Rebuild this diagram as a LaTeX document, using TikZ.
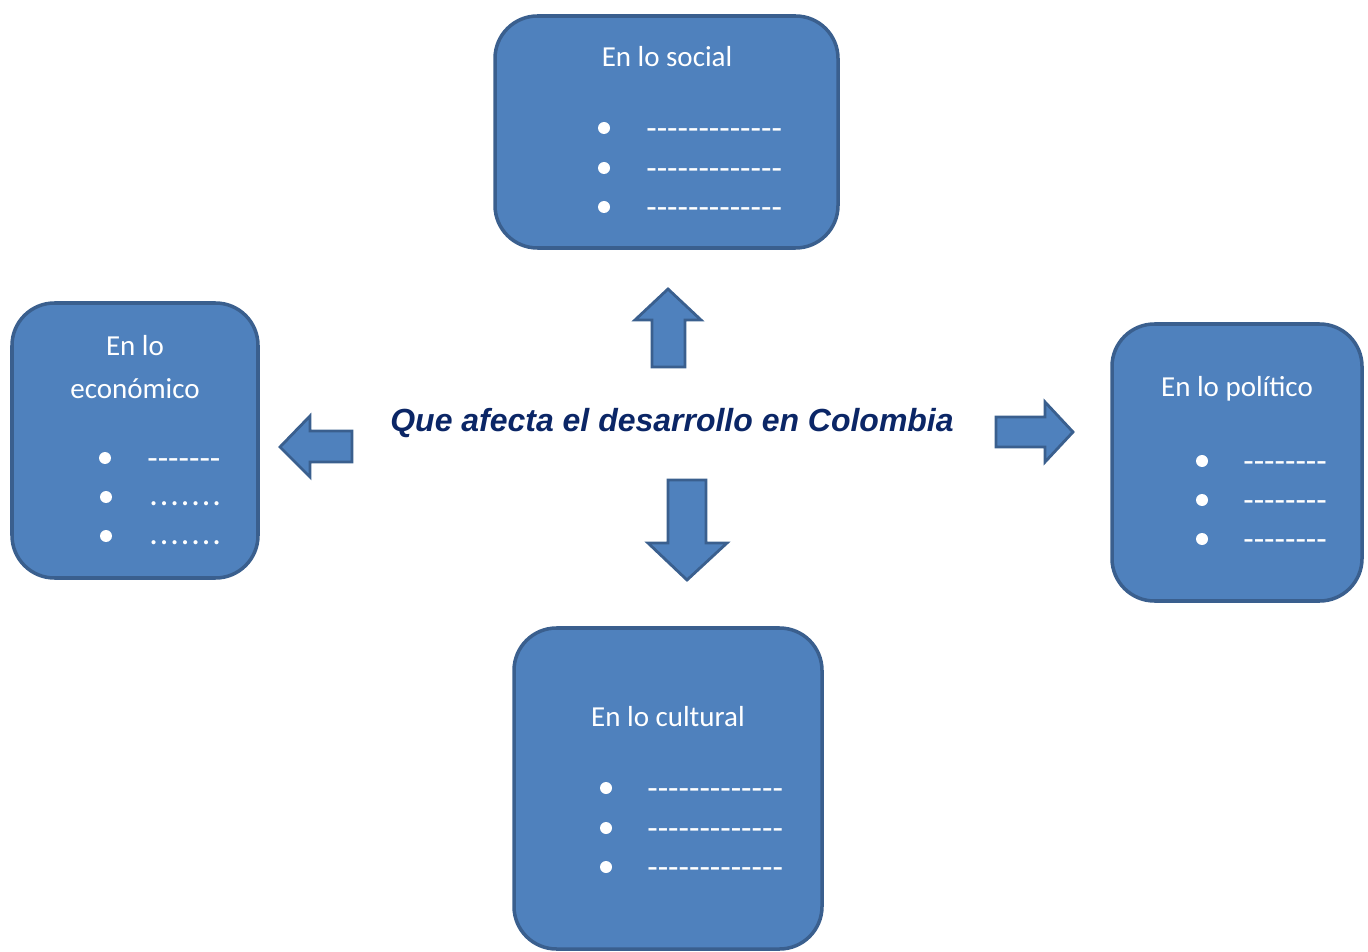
\documentclass[tikz,border=0pt]{standalone}
\usepackage{fontspec}
\setmainfont{Carlito}
\newfontfamily\arialfont{Liberation Sans}
\definecolor{boxfill}{HTML}{4F81BD}
\definecolor{boxline}{HTML}{3A5F8E}
\definecolor{titlenavy}{HTML}{0B2666}
\newcommand\hy{-{}}
\newcommand\pt{.\kern1.1pt}
\tikzset{
	box/.style={draw=boxline, fill=boxfill, line width=2pt, rounded corners=0.85cm},
	blockarrow/.style={draw=boxline, fill=boxfill, line width=1.6pt, line join=miter},
	head/.style={text=white, font=\fontsize{16.5}{20}\selectfont, align=center},
	dashes/.style={text=white, font=\fontsize{19.4}{20}\selectfont, anchor=west, inner sep=0pt, yshift=-0.13cm},
	dot/.style={fill=white, draw=none, circle, inner sep=0pt, minimum size=0.24cm}
}
\begin{document}
\begin{tikzpicture}[x=0.02cm, y=-0.02cm]
		\useasboundingbox (0,0) rectangle (1368,952);
		
		% boxes
		\draw[box] (495,16) rectangle (838,248);
		\draw[box] (12,303) rectangle (258,578);
		\draw[box] (1112,324) rectangle (1362,601);
		\draw[box] (514,628) rectangle (822,949);
		
		% en lo social
		\node[head] (social) at (667,57) {En lo social};
		\foreach \y in {128,168,207} {
			\node[dot] at (604,\y) {};
			\node[dashes] at (646,\y) {\hy\hy\hy\hy\hy\hy\hy\hy\hy\hy\hy\hy\hy};
		}
		
		% en lo economico
		\node[head] (economico) at (135,367) {En lo\\[4pt]económico};
		\node[dot] at (105,458) {};
		\node[dot] at (106,497) {};
		\node[dot] at (106,536) {};
		\node[dashes] at (147,458) {\hy\hy\hy\hy\hy\hy\hy};
		\node[dashes] at (149,497) {\pt\pt\pt\pt\pt\pt.};
		\node[dashes] at (149,536) {\pt\pt\pt\pt\pt\pt.};
		
		% en lo politico
		\node[head] (politico) at (1237,389) {En lo político};
		\foreach \y in {461,500,539} {
			\node[dot] at (1202,\y) {};
			\node[dashes] at (1243,\y) {\hy\hy\hy\hy\hy\hy\hy\hy};
		}
		
		% en lo cultural
		\node[head] (cultural) at (668,717) {En lo cultural};
		\foreach \y in {788,828,867} {
			\node[dot] at (606,\y) {};
			\node[dashes] at (647,\y) {\hy\hy\hy\hy\hy\hy\hy\hy\hy\hy\hy\hy\hy};
		}
		
		% centro
		\node[text=titlenavy, font=\arialfont\bfseries\itshape\fontsize{18.2}{20}\selectfont] (centro) at (672,423) {Que afecta el desarrollo en Colombia};
		
		% flechas
		\draw[blockarrow] (668,289) -- (701,320) -- (685,320) -- (685,367) -- (652,367) -- (652,320) -- (635,320) -- cycle;
		\draw[blockarrow] (280,447) -- (310,416) -- (310,431) -- (352,431) -- (352,462) -- (310,462) -- (310,477) -- cycle;
		\draw[blockarrow] (1073,432) -- (1045,402) -- (1045,417) -- (996,417) -- (996,447) -- (1045,447) -- (1045,462) -- cycle;
		\draw[blockarrow] (687,580) -- (727,543) -- (706,543) -- (706,480) -- (668,480) -- (668,543) -- (648,543) -- cycle;
\end{tikzpicture}
\end{document}
